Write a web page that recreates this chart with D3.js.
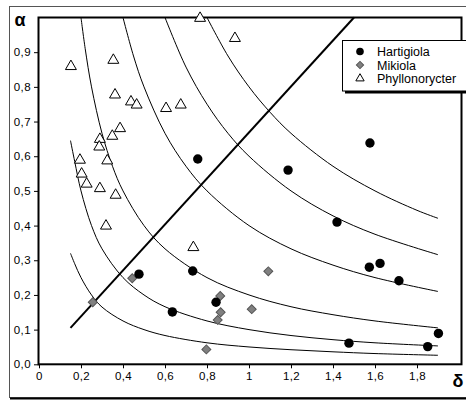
<!DOCTYPE html>
<html>
<head>
<meta charset="utf-8">
<script src="https://cdn.jsdelivr.net/npm/d3@7"></script>
<style>
  html, body { margin: 0; padding: 0; background: #fff; }
  svg { display: block; }
  text { font-family: Arial, "Liberation Sans", sans-serif; }
</style>
</head>
<body>
<svg id="chart" width="466" height="400"></svg>
<script>
// ---- data ----
const seriesNames = ["Hartigiola", "Mikiola", "Phyllonorycter"];

const hartigiolaDelta = [0.756, 1.186, 1.576, 1.419, 1.573, 1.624, 1.714, 1.902, 1.851, 1.476, 0.476, 0.732, 0.635, 0.843];
const hartigiolaAlpha = [0.592, 0.560, 0.638, 0.410, 0.280, 0.291, 0.241, 0.089, 0.051, 0.061, 0.260, 0.269, 0.151, 0.179];

const mikiolaDelta = [0.256, 0.444, 0.863, 0.865, 0.851, 0.797, 1.092, 1.013];
const mikiolaAlpha = [0.179, 0.248, 0.197, 0.150, 0.128, 0.043, 0.268, 0.159];

const phylloDelta = [0.152, 0.354, 0.362, 0.438, 0.465, 0.605, 0.675, 0.767, 0.933, 0.386, 0.349, 0.290, 0.287, 0.195, 0.325, 0.203, 0.227, 0.290, 0.365, 0.319, 0.735];
const phylloAlpha = [0.859, 0.877, 0.777, 0.757, 0.748, 0.738, 0.748, 0.998, 0.940, 0.680, 0.658, 0.649, 0.627, 0.589, 0.587, 0.549, 0.520, 0.507, 0.488, 0.399, 0.337];

// isolines, read as [delta, alpha] points
const curve1 = [[0.15,0.32],[0.17,0.29],[0.2,0.25],[0.25,0.2],[0.3,0.165],[0.4,0.125],[0.5,0.1],[0.6,0.083],[0.8,0.062],[1.0,0.05],[1.2,0.042],[1.4,0.036],[1.6,0.031],[1.9,0.026]];
const curve2 = [[0.15,0.645],[0.17,0.585],[0.2,0.5],[0.25,0.4],[0.3,0.333],[0.4,0.25],[0.5,0.2],[0.6,0.166],[0.8,0.125],[1.0,0.1],[1.2,0.083],[1.4,0.071],[1.6,0.062],[1.9,0.053]];
const curve3 = [[0.2,1.0],[0.22,0.91],[0.25,0.8],[0.3,0.666],[0.35,0.571],[0.4,0.5],[0.5,0.4],[0.6,0.333],[0.8,0.25],[1.0,0.2],[1.2,0.166],[1.4,0.143],[1.6,0.125],[1.9,0.105]];
const curve4 = [[0.4,1.0],[0.45,0.889],[0.5,0.8],[0.6,0.666],[0.7,0.571],[0.8,0.5],[1.0,0.4],[1.2,0.333],[1.4,0.286],[1.6,0.25],[1.9,0.21]];
const curve5 = [[0.6,1.0],[0.7,0.857],[0.8,0.75],[0.9,0.666],[1.0,0.6],[1.2,0.5],[1.4,0.428],[1.6,0.375],[1.9,0.316]];
const curve6 = [[0.8,1.0],[0.9,0.889],[1.0,0.8],[1.1,0.727],[1.2,0.666],[1.4,0.571],[1.6,0.5],[1.8,0.444],[1.9,0.421]];
const diagonal = [[0.15,0.105],[1.5,1.0]];

const xTicks = [0, 0.2, 0.4, 0.6, 0.8, 1, 1.2, 1.4, 1.6, 1.8];
const yTicks = [0, 0.1, 0.2, 0.3, 0.4, 0.5, 0.6, 0.7, 0.8, 0.9];

// ---- drawing ----
const svg = d3.select("#chart");
const x = d3.scaleLinear().domain([0, 2]).range([39, 459]);
const y = d3.scaleLinear().domain([0, 1]).range([364.3, 17.5]);

// outer chart frame
svg.append("rect").attr("x", 9.5).attr("y", 6.5).attr("width", 470).attr("height", 391)
  .attr("fill", "#fff").attr("stroke", "#555").attr("stroke-width", 1);
svg.append("line").attr("x1", 10).attr("x2", 466).attr("y1", 398.5).attr("y2", 398.5)
  .attr("stroke", "#000").attr("stroke-width", 2);

// axes
const fmtX = d => d3.format("~g")(d).replace(".", ",");
const fmtY = d => d3.format(".1f")(d).replace(".", ",");

const gx = svg.append("g").attr("transform", `translate(0,${y(0)})`)
  .call(d3.axisBottom(x).tickValues(xTicks).tickFormat(fmtX).tickSize(4).tickPadding(4));
const gy = svg.append("g").attr("transform", `translate(${x(0)},0)`)
  .call(d3.axisLeft(y).tickValues(yTicks).tickFormat(fmtY).tickSize(5).tickPadding(3));
[gx, gy].forEach(g => {
  g.select(".domain").remove();
  g.selectAll(".tick line").attr("stroke", "#000").attr("stroke-width", 1);
  g.selectAll(".tick text").attr("font-size", 11.5).attr("fill", "#000")
    .attr("font-family", "Arial, 'Liberation Sans', sans-serif").style("letter-spacing", "0.4px");
});

// curves
const line = d3.line().x(d => x(d[0])).y(d => y(d[1])).curve(d3.curveCatmullRom.alpha(0.5));
[curve1, curve2, curve3, curve4, curve5, curve6].forEach(c => {
  svg.append("path").attr("d", line(c)).attr("fill", "none")
    .attr("stroke", "#000").attr("stroke-width", 1);
});
svg.append("path").attr("d", d3.line().x(d => x(d[0])).y(d => y(d[1]))(diagonal))
  .attr("fill", "none").attr("stroke", "#000").attr("stroke-width", 2);

// plot frame
svg.append("rect").attr("x", x(0) - 0.5).attr("y", y(1)).attr("width", 423).attr("height", y(0) - y(1))
  .attr("fill", "none").attr("stroke", "#000").attr("stroke-width", 2);

// markers
const triPath = d3.symbol(d3.symbolTriangle, 52)();
const triPathSmall = d3.symbol(d3.symbolTriangle, 30)();
const diaPath = d3.symbol(d3.symbolSquare, 40)();
const diaPathSmall = d3.symbol(d3.symbolSquare, 26)();

svg.append("g").selectAll("path").data(d3.range(phylloDelta.length)).join("path")
  .attr("d", triPath)
  .attr("transform", i => `translate(${x(phylloDelta[i])},${y(phylloAlpha[i])})`)
  .attr("fill", "#fff").attr("stroke", "#000").attr("stroke-width", 1);

svg.append("g").selectAll("path").data(d3.range(mikiolaDelta.length)).join("path")
  .attr("d", diaPath)
  .attr("transform", i => `translate(${x(mikiolaDelta[i])},${y(mikiolaAlpha[i])}) rotate(45)`)
  .attr("fill", "#808080").attr("stroke", "#555").attr("stroke-width", 1);

svg.append("g").selectAll("circle").data(d3.range(hartigiolaDelta.length)).join("circle")
  .attr("cx", i => x(hartigiolaDelta[i])).attr("cy", i => y(hartigiolaAlpha[i]))
  .attr("r", 4.7).attr("fill", "#000");

// axis symbols
svg.append("text").attr("x", 20).attr("y", 25.5).attr("text-anchor", "middle")
  .attr("font-family", "'Liberation Serif', 'DejaVu Serif', serif").attr("font-weight", "bold")
  .attr("font-size", 18).text("α");
svg.append("text").attr("x", 458).attr("y", 386.5).attr("text-anchor", "middle")
  .attr("font-family", "'Liberation Serif', 'DejaVu Serif', serif").attr("font-weight", "bold")
  .attr("font-size", 18).text("δ");

// legend
const lg = svg.append("g");
lg.append("rect").attr("x", 345).attr("y", 44).attr("width", 140).attr("height", 49.5).attr("fill", "#000");
lg.append("rect").attr("x", 342.5).attr("y", 40.5).attr("width", 140).attr("height", 50.5)
  .attr("fill", "#fff").attr("stroke", "#000").attr("stroke-width", 1);
const rows = [51.5, 65, 78.5];
lg.append("circle").attr("cx", 360).attr("cy", rows[0]).attr("r", 3.8).attr("fill", "#000");
lg.append("path").attr("d", diaPathSmall).attr("transform", `translate(360,${rows[1]}) rotate(45)`)
  .attr("fill", "#808080").attr("stroke", "#555");
lg.append("path").attr("d", triPathSmall).attr("transform", `translate(360,${rows[2]})`)
  .attr("fill", "#fff").attr("stroke", "#000");
lg.selectAll("text.lab").data(seriesNames).join("text").attr("class", "lab")
  .attr("x", 377).attr("y", (d, i) => rows[i]).attr("dy", "0.36em")
  .attr("font-size", 12.5).attr("fill", "#000").text(d => d);
</script>
</body>
</html>
